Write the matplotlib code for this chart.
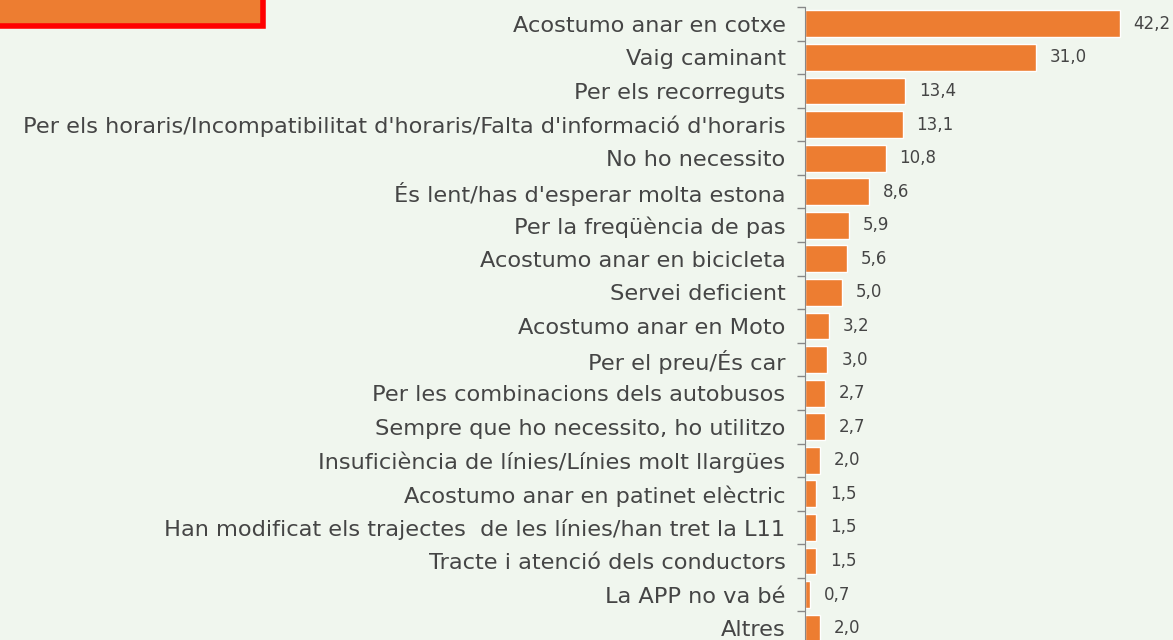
import matplotlib.pyplot as plt
from matplotlib.patches import Rectangle

categories = [
    "Acostumo anar en cotxe",
    "Vaig caminant",
    "Per els recorreguts",
    "Per els horaris/Incompatibilitat d'horaris/Falta d'informació d'horaris",
    "No ho necessito",
    "És lent/has d'esperar molta estona",
    "Per la freqüència de pas",
    "Acostumo anar en bicicleta",
    "Servei deficient",
    "Acostumo anar en Moto",
    "Per el preu/És car",
    "Per les combinacions dels autobusos",
    "Sempre que ho necessito, ho utilitzo",
    "Insuficiència de línies/Línies molt llargües",
    "Acostumo anar en patinet elèctric",
    "Han modificat els trajectes  de les línies/han tret la L11",
    "Tracte i atenció dels conductors",
    "La APP no va bé",
    "Altres",
]
values = [42.2, 31.0, 13.4, 13.1, 10.8, 8.6, 5.9, 5.6, 5.0, 3.2, 3.0, 2.7, 2.7,
          2.0, 1.5, 1.5, 1.5, 0.7, 2.0]

bg = '#f0f6ee'
orange = '#ed7d31'
txt = '#454545'

plt.rcParams['font.family'] = ['DejaVu Sans']

fig = plt.figure(figsize=(11.73, 6.40), dpi=100, facecolor=bg)
ax = fig.add_axes([805 / 1173, -5 / 640, 358 / 1173, 638 / 640])
ax.set_facecolor(bg)

y = list(range(len(categories)))
ax.barh(y, values, height=0.8, color=orange, edgecolor='white', linewidth=1)
ax.set_ylim(len(categories) - 0.5, -0.5)
ax.set_xlim(0, 48)

ax.set_yticks(y)
ax.set_yticklabels(categories, fontsize=16.2, color=txt)
ax.set_yticks([i + 0.5 for i in range(-1, len(categories))], minor=True)
ax.tick_params(axis='y', which='major', length=0, pad=14)
ax.tick_params(axis='y', which='minor', length=6, color='#888888', width=1)
ax.set_xticks([])

for s in ['top', 'right', 'bottom']:
    ax.spines[s].set_visible(False)
ax.spines['left'].set_color('#888888')

for yi, v in zip(y, values):
    ax.annotate(f'{v:.1f}'.replace('.', ','), (v, yi), xytext=(10, 0),
                textcoords='offset points', va='center', ha='left',
                fontsize=12, color=txt)

# title box cut off at the top
box = Rectangle((-0.01, 1 - 26 / 640), 263 / 1173 + 0.01, 0.2,
                transform=fig.transFigure, facecolor=orange,
                edgecolor='#ff0000', linewidth=4)
fig.patches.append(box)

fig.savefig('out.png', dpi=100, facecolor=bg)
